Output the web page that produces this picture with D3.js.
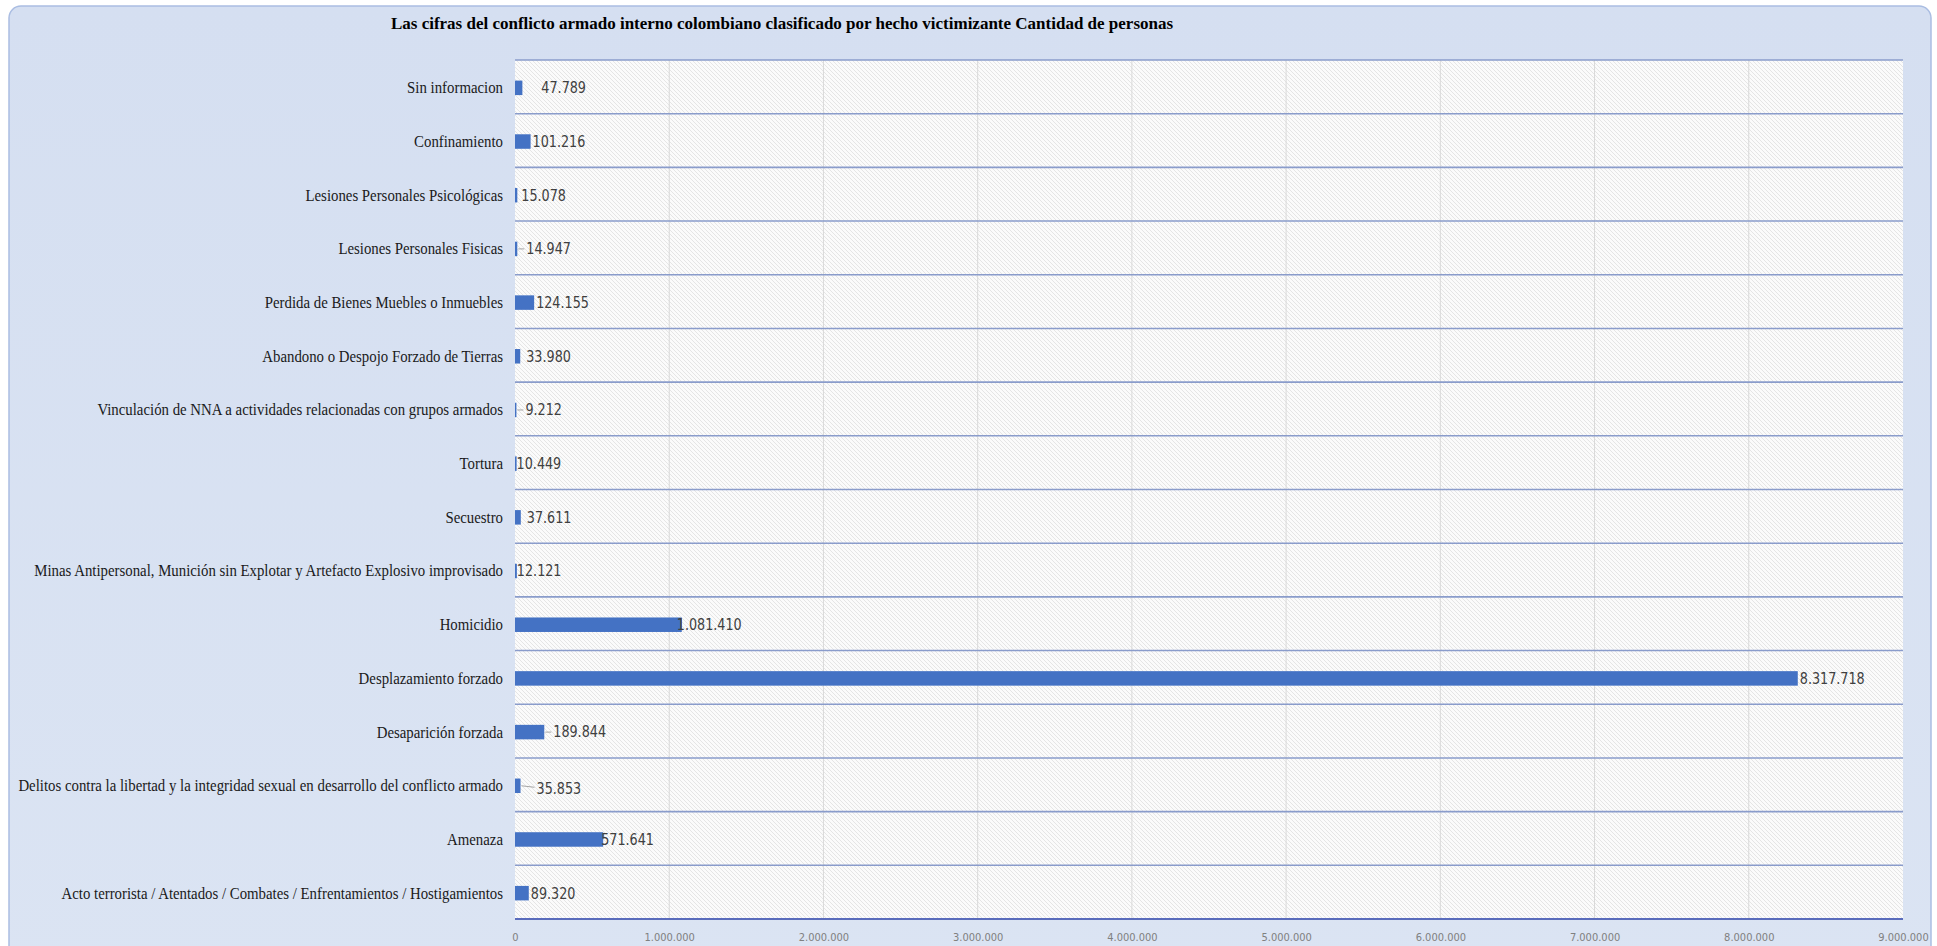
<!DOCTYPE html>
<html>
<head>
<meta charset="utf-8">
<script src="https://cdn.jsdelivr.net/npm/d3@7"></script>
<style>
  html, body { margin: 0; padding: 0; background: #ffffff; }
  svg { display: block; }
</style>
</head>
<body>
<svg id="chart" width="1937" height="946"></svg>
<script>
// ---------------- DATA ----------------
const categories = [
  "Sin informacion",
  "Confinamiento",
  "Lesiones Personales Psicológicas",
  "Lesiones Personales Fisicas",
  "Perdida de Bienes Muebles o Inmuebles",
  "Abandono o Despojo Forzado de Tierras",
  "Vinculación de NNA a actividades relacionadas con grupos armados",
  "Tortura",
  "Secuestro",
  "Minas Antipersonal, Munición sin Explotar y Artefacto Explosivo improvisado",
  "Homicidio",
  "Desplazamiento forzado",
  "Desaparición forzada",
  "Delitos contra la libertad y la integridad sexual en desarrollo del conflicto armado",
  "Amenaza",
  "Acto terrorista / Atentados / Combates / Enfrentamientos / Hostigamientos"
];
const values = [47789, 101216, 15078, 14947, 124155, 33980, 9212, 10449, 37611, 12121, 1081410, 8317718, 189844, 35853, 571641, 89320];
const tickValues = [0, 1000000, 2000000, 3000000, 4000000, 5000000, 6000000, 7000000, 8000000, 9000000];
const titleText = "Las cifras del conflicto armado interno colombiano clasificado por hecho victimizante Cantidad de personas";

// ---------------- LAYOUT (label placement tweaks, not data) ----------------
const labelGap =    [19, 2, 4, 9, 2, 6, 9, 0, 6, 0, -5, 2, 9, 16, -2, 2];
const labelLeader = [false, false, false, true, false, false, true, false, false, false, false, false, true, true, false, false];
const labelDy =     [0, 0, 0, 0, 0, 0, 0, 0, 0, 0, 0, 0, 0, 3, 0, 0];

const W = 1937, H = 946;
const plot = { left: 515, right: 1903, top: 60, bottom: 919 };

const nf = d3.formatLocale({ decimal: ",", thousands: ".", grouping: [3], currency: ["$", ""] }).format(",d");

const svg = d3.select("#chart");
const defs = svg.append("defs");

// frame gradient
const grad = defs.append("linearGradient").attr("id", "frameGrad").attr("x1", 0).attr("y1", 0).attr("x2", 0).attr("y2", 1);
grad.append("stop").attr("offset", "0%").attr("stop-color", "#d5dff1");
grad.append("stop").attr("offset", "100%").attr("stop-color", "#dbe4f3");

// hatch pattern
const pat = defs.append("pattern").attr("id", "hatch").attr("patternUnits", "userSpaceOnUse")
  .attr("width", 4).attr("height", 4);
pat.append("rect").attr("width", 4).attr("height", 4).attr("fill", "#fbfbfb");
pat.append("path").attr("d", "M-1,3 l2,2 M0,0 l4,4 M3,-1 l2,2")
  .attr("stroke", "#e2e2e2").attr("stroke-width", 0.9);

// outer frame
svg.append("rect").attr("x", 9).attr("y", 6).attr("width", 1922).attr("height", 980)
  .attr("rx", 12).attr("ry", 12)
  .attr("fill", "url(#frameGrad)").attr("stroke", "#aabde2").attr("stroke-width", 1.5);

// scales
const x = d3.scaleLinear().domain([0, 9000000]).range([plot.left, plot.right]);
const y = d3.scaleBand().domain(categories).range([plot.top, plot.bottom]).paddingInner(0).paddingOuter(0);
const bw = y.bandwidth();
const barH = 14.5;

// plot background
svg.append("rect").attr("x", plot.left).attr("y", plot.top)
  .attr("width", plot.right - plot.left).attr("height", plot.bottom - plot.top)
  .attr("fill", "url(#hatch)");

// vertical gridlines
svg.append("g").selectAll("line").data(tickValues.slice(1, -1)).join("line")
  .attr("x1", d => x(d)).attr("x2", d => x(d))
  .attr("y1", plot.top).attr("y2", plot.bottom)
  .attr("stroke", "#d9d9d9").attr("stroke-width", 1);

// horizontal category separators
const seps = d3.range(categories.length).map(i => y(categories[i]));
svg.append("g").selectAll("line").data(seps).join("line")
  .attr("x1", plot.left).attr("x2", plot.right)
  .attr("y1", d => d).attr("y2", d => d)
  .attr("stroke", "#8a9ccb").attr("stroke-width", 1.6);

// bars
svg.append("g").selectAll("rect").data(categories).join("rect")
  .attr("x", x(0))
  .attr("y", d => y(d) + bw / 2 - barH / 2 + 1)
  .attr("width", (d, i) => Math.max(1, x(values[i]) - x(0)))
  .attr("height", barH)
  .attr("fill", "#4472c4");

// leader lines
svg.append("g").selectAll("line").data(categories.filter((d, i) => labelLeader[i])).join("line")
  .each(function (d) {
    const i = categories.indexOf(d);
    const x0 = x(values[i]) + 1;
    const x1 = x(values[i]) + labelGap[i] - 2;
    const cy = y(d) + bw / 2 + 1;
    d3.select(this).attr("x1", x0).attr("x2", x1).attr("y1", cy).attr("y2", cy + labelDy[i] * 0.5);
  })
  .attr("stroke", "#a6a6a6").attr("stroke-width", 1);

// value labels (horizontally condensed like the reference)
const vScale = 0.86;
svg.append("g").selectAll("text").data(categories).join("text")
  .attr("transform", (d, i) => `translate(${x(values[i]) + labelGap[i]},${y(d) + bw / 2 + 1 + labelDy[i]}) scale(${vScale},1)`)
  .attr("dominant-baseline", "central")
  .attr("font-family", "'Liberation Sans Narrow', 'DejaVu Sans Condensed', 'Open Sans', sans-serif")
  .attr("font-size", 16.5)
  .attr("fill", "#404040")
  .text((d, i) => nf(values[i]));

// bottom axis baseline
svg.append("line").attr("x1", plot.left).attr("x2", plot.right)
  .attr("y1", plot.bottom).attr("y2", plot.bottom)
  .attr("stroke", "#5a6cbc").attr("stroke-width", 2.2);

// x axis tick labels
const xAxis = d3.axisBottom(x).tickValues(tickValues).tickFormat(nf).tickSize(0).tickPadding(14);
const gx = svg.append("g").attr("transform", `translate(0,${plot.bottom})`).call(xAxis);
gx.select(".domain").remove();
gx.selectAll("text")
  .attr("font-family", "'Liberation Sans Narrow', 'DejaVu Sans Condensed', sans-serif")
  .attr("font-size", 11).attr("fill", "#808080");

// category labels
const yAxis = d3.axisLeft(y).tickSize(0).tickPadding(0);
const gy = svg.append("g").attr("transform", `translate(${plot.left - 12},1)`).call(yAxis);
gy.select(".domain").remove();
gy.selectAll("text")
  .attr("font-family", "'Liberation Serif', 'Times New Roman', serif")
  .attr("font-size", 17).attr("fill", "#1a1a1a");
// compress horizontally to fit available width like the reference
let maxW = 0;
gy.selectAll("text").each(function () { maxW = Math.max(maxW, this.getComputedTextLength()); });
const targetW = 485;
if (maxW > targetW) {
  const s = targetW / maxW;
  gy.selectAll("text").attr("transform", `scale(${s},1)`);
}

// title
const title = svg.append("text")
  .attr("x", 782).attr("y", 23)
  .attr("text-anchor", "middle").attr("dominant-baseline", "central")
  .attr("font-family", "'Liberation Serif', 'Times New Roman', serif")
  .attr("font-weight", "bold").attr("font-size", 17).attr("fill", "#000")
  .text(titleText);
</script>
</body>
</html>
